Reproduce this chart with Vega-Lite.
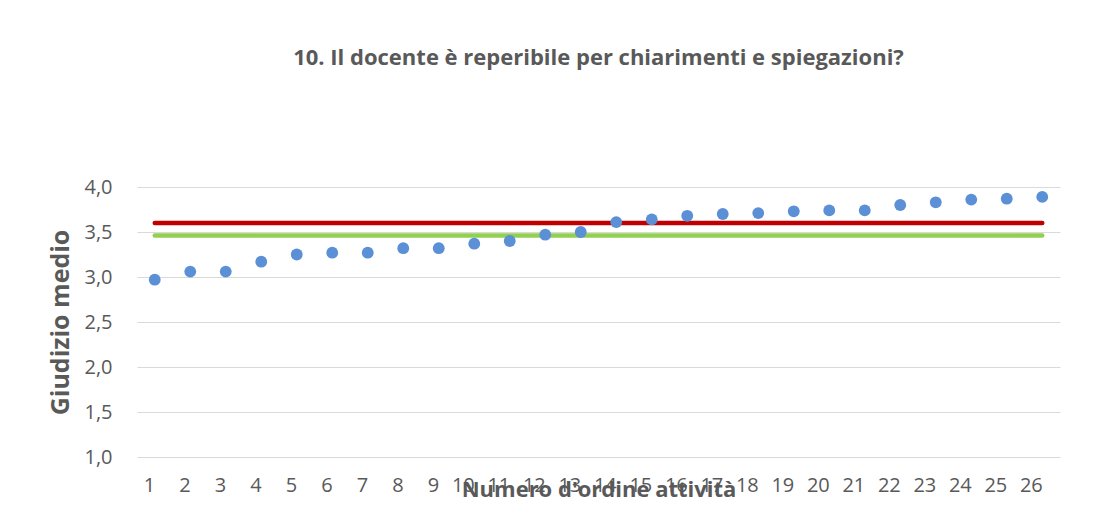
{
  "$schema": "https://vega.github.io/schema/vega-lite/v6.json",
  "width": 923,
  "height": 270,
  "autosize": "none",
  "padding": {"left": 137, "top": 187, "right": 47, "bottom": 52},
  "background": "white",
  "title": {
    "text": "10. Il docente è reperibile per chiarimenti e spiegazioni?",
    "font": "Open Sans",
    "fontSize": 22,
    "fontWeight": "bold",
    "color": "#595959",
    "anchor": "middle",
    "offset": 107
  },
  "datasets": {
    "points": [
      {"n": 1, "v": 2.97}, {"n": 2, "v": 3.06}, {"n": 3, "v": 3.06}, {"n": 4, "v": 3.17},
      {"n": 5, "v": 3.25}, {"n": 6, "v": 3.27}, {"n": 7, "v": 3.27}, {"n": 8, "v": 3.32},
      {"n": 9, "v": 3.32}, {"n": 10, "v": 3.37}, {"n": 11, "v": 3.40}, {"n": 12, "v": 3.47},
      {"n": 13, "v": 3.50}, {"n": 14, "v": 3.61}, {"n": 15, "v": 3.64}, {"n": 16, "v": 3.68},
      {"n": 17, "v": 3.70}, {"n": 18, "v": 3.71}, {"n": 19, "v": 3.73}, {"n": 20, "v": 3.74},
      {"n": 21, "v": 3.74}, {"n": 22, "v": 3.80}, {"n": 23, "v": 3.83}, {"n": 24, "v": 3.86},
      {"n": 25, "v": 3.87}, {"n": 26, "v": 3.89}
    ],
    "lines": [
      {"serie": "A", "n": 1, "v": 3.60}, {"serie": "A", "n": 26, "v": 3.60},
      {"serie": "B", "n": 1, "v": 3.46}, {"serie": "B", "n": 26, "v": 3.46}
    ]
  },
  "config": {
    "view": {"stroke": null},
    "axis": {
      "labelFont": "Open Sans",
      "titleFont": "Open Sans",
      "labelColor": "#595959",
      "titleColor": "#595959",
      "labelFontSize": 20,
      "titleFontSize": 22,
      "titleFontWeight": "bold",
      "ticks": false,
      "domain": false,
      "gridColor": "#d9d9d9",
      "gridWidth": 1
    }
  },
  "layer": [
    {
      "data": {"name": "lines"},
      "mark": {"type": "line", "strokeWidth": 4.5, "strokeCap": "round"},
      "encoding": {
        "x": {"field": "n", "type": "ordinal"},
        "y": {"field": "v", "type": "quantitative"},
        "color": {
          "field": "serie",
          "type": "nominal",
          "scale": {"domain": ["A", "B"], "range": ["#C00000", "#92D050"]},
          "legend": null
        }
      }
    },
    {
      "data": {"name": "points"},
      "mark": {"type": "circle", "size": 140, "color": "#5B8FD6", "opacity": 1},
      "encoding": {
        "x": {
          "field": "n",
          "type": "ordinal",
          "scale": {"type": "point", "padding": 0.5},
          "axis": {
            "title": "Numero d'ordine attività",
            "labelAngle": 0,
            "labelPadding": 28,
            "grid": false,
            "titleY": 32,
            "titleBaseline": "middle"
          }
        },
        "y": {
          "field": "v",
          "type": "quantitative",
          "scale": {"domain": [1, 4], "nice": false, "zero": false},
          "axis": {
            "title": "Giudizio medio",
            "titleFontSize": 25,
            "values": [1, 1.5, 2, 2.5, 3, 3.5, 4],
            "labelExpr": "replace(format(datum.value, '.1f'), '.', ',')",
            "labelPadding": 25,
            "titleX": -69,
            "titleBaseline": "alphabetic"
          }
        }
      }
    }
  ]
}
